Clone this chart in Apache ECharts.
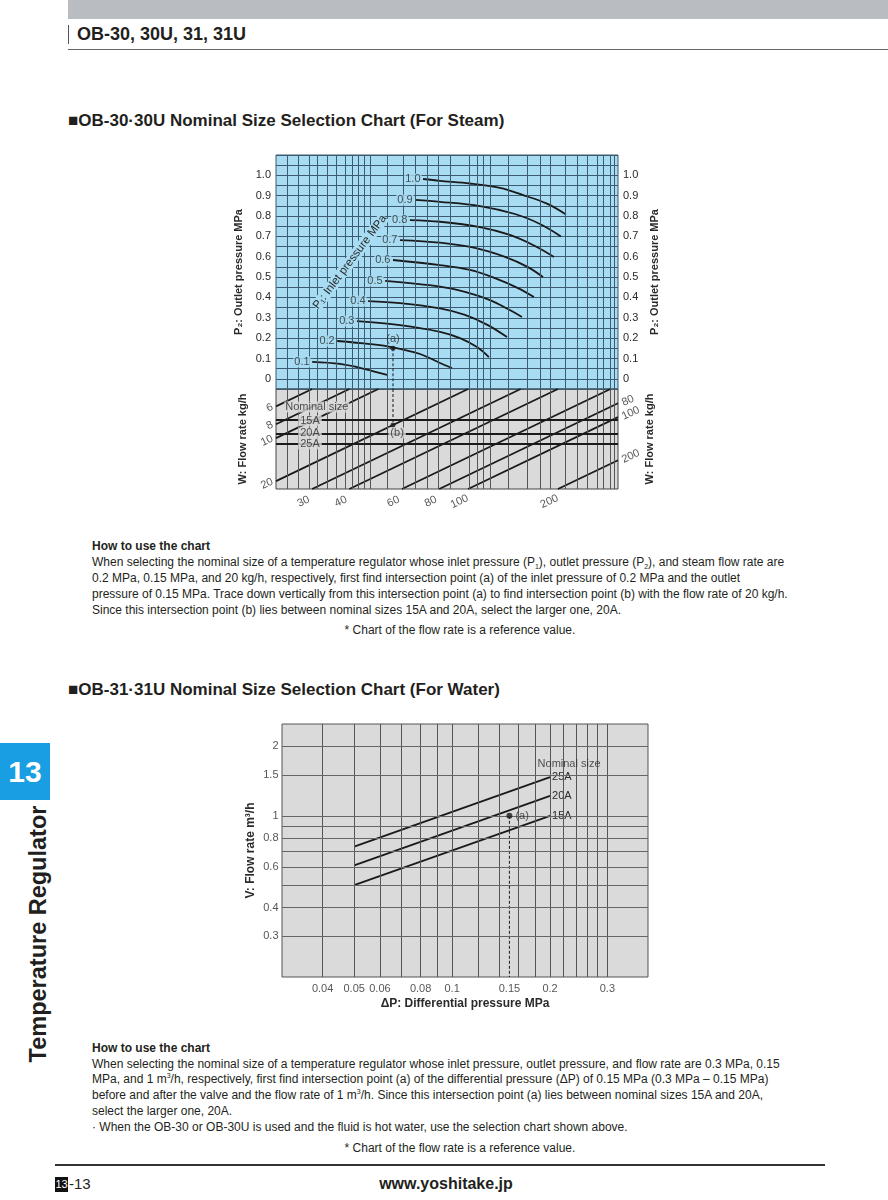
<!DOCTYPE html>
<html><head><meta charset="utf-8">
<script src="https://cdn.jsdelivr.net/npm/echarts@6/dist/echarts.min.js"></script>
<style>
html,body{margin:0;padding:0;}
body{width:888px;height:1200px;position:relative;background:#fff;font-family:"Liberation Sans",Arial,sans-serif;color:#231f20;overflow:hidden;}
.a{position:absolute;white-space:nowrap;}
.sec{font-weight:bold;font-size:17px;line-height:20px;}
.p{font-size:12px;line-height:16px;}
.p sub,.p sup{font-size:7px;line-height:0;}
</style></head><body>
<div class="a" style="left:68px;top:0;width:820px;height:19px;background:#b9bcc0"></div>
<div class="a" style="left:68px;top:25px;width:1px;height:19px;background:#555"></div>
<div class="a" style="left:77px;top:24px;font-weight:bold;font-size:18px;line-height:20px">OB-30, 30U, 31, 31U</div>
<div class="a" style="left:68px;top:49px;width:820px;height:1px;background:#666"></div>

<div class="a sec" style="left:68px;top:111px">■OB-30·30U Nominal Size Selection Chart (For Steam)</div>
<div id="steam" class="a" style="left:200px;top:140px;width:500px;height:380px"></div>

<div class="a p" style="left:92px;top:538px">
<b>How to use the chart</b><br>
When selecting the nominal size of a temperature regulator whose inlet pressure (P<sub>1</sub>), outlet pressure (P<sub>2</sub>), and steam flow rate are<br>
0.2 MPa, 0.15 MPa, and 20 kg/h, respectively, first find intersection point (a) of the inlet pressure of 0.2 MPa and the outlet<br>
pressure of 0.15 MPa. Trace down vertically from this intersection point (a) to find intersection point (b) with the flow rate of 20 kg/h.<br>
Since this intersection point (b) lies between nominal sizes 15A and 20A, select the larger one, 20A.
</div>
<div class="a p" style="left:0;width:920px;text-align:center;top:622px">* Chart of the flow rate is a reference value.</div>

<div class="a sec" style="left:68px;top:680px">■OB-31·31U Nominal Size Selection Chart (For Water)</div>
<div id="water" class="a" style="left:230px;top:715px;width:440px;height:300px"></div>

<div class="a p" style="left:92px;top:1041px;line-height:15.7px">
<b>How to use the chart</b><br>
When selecting the nominal size of a temperature regulator whose inlet pressure, outlet pressure, and flow rate are 0.3 MPa, 0.15<br>
MPa, and 1 m<sup>3</sup>/h, respectively, first find intersection point (a) of the differential pressure (ΔP) of 0.15 MPa (0.3 MPa – 0.15 MPa)<br>
before and after the valve and the flow rate of 1 m<sup>3</sup>/h. Since this intersection point (a) lies between nominal sizes 15A and 20A,<br>
select the larger one, 20A.<br>
· When the OB-30 or OB-30U is used and the fluid is hot water, use the selection chart shown above.
</div>
<div class="a p" style="left:0;width:920px;text-align:center;top:1140px">* Chart of the flow rate is a reference value.</div>

<div class="a" style="left:0;top:743px;width:50px;height:57px;background:#1a9ee3;color:#fff;font-weight:bold;font-size:30px;line-height:57px;text-align:center">13</div>
<div class="a" style="left:38px;top:934px;font-weight:bold;font-size:23.5px;line-height:26px;transform:translate(-50%,-50%) rotate(-90deg)">Temperature Regulator</div>

<div class="a" style="left:55px;top:1164px;width:770px;height:2px;background:#333"></div>
<div class="a" style="left:55px;top:1177px;width:13px;height:15px;background:#111;color:#fff;font-size:11px;line-height:15px;text-align:center">13</div>
<div class="a" style="left:69px;top:1175px;font-size:15px;line-height:18px">-13</div>
<div class="a" style="left:446px;top:1175px;transform:translateX(-50%);font-weight:bold;font-size:16px;line-height:18px">www.yoshitake.jp</div>

<script>
// ================= STEAM CHART DATA =================
// horizontal (capacity) axis is logarithmic; P2 axis linear; flow axis logarithmic
const inletPressures = [0.1, 0.2, 0.3, 0.4, 0.5, 0.6, 0.7, 0.8, 0.9, 1.0];
const curveP1_01 = [[30.0,0.083],[37.2,0.073],[45.1,0.048],[53.5,0.019]];
const curveP1_02 = [[36.4,0.186],[46.9,0.171],[56.0,0.155],[69.0,0.122],[80.5,0.078],[88.3,0.053]];
const curveP1_03 = [[42.4,0.284],[59.1,0.264],[80.5,0.231],[93.9,0.200],[107.1,0.156],[117.4,0.107]];
const curveP1_04 = [[46.2,0.382],[59.1,0.372],[80.5,0.346],[97.6,0.314],[116.5,0.264],[135.0,0.205]];
const curveP1_05 = [[52.7,0.481],[80.5,0.453],[97.6,0.427],[118.4,0.387],[136.0,0.343],[151.5,0.304]];
const curveP1_06 = [[56.0,0.584],[80.5,0.559],[101.4,0.535],[123.0,0.495],[146.9,0.446],[166.2,0.402]];
const curveP1_07 = [[59.1,0.682],[80.5,0.669],[105.4,0.643],[132.9,0.599],[158.7,0.549],[178.2,0.500]];
const curveP1_08 = [[63.8,0.780],[80.5,0.772],[109.6,0.746],[138.1,0.707],[167.5,0.653],[194.0,0.599]];
const curveP1_09 = [[66.4,0.879],[80.5,0.870],[109.6,0.849],[143.6,0.810],[174.1,0.761],[204.7,0.700]];
const curveP1_10 = [[70.6,0.982],[80.5,0.973],[101.4,0.960],[127.9,0.938],[152.7,0.903],[183.8,0.861],[212.8,0.808]];
const steamCurves = [curveP1_01,curveP1_02,curveP1_03,curveP1_04,curveP1_05,curveP1_06,curveP1_07,curveP1_08,curveP1_09,curveP1_10];

const flowRates = [6, 8, 10, 20, 30, 40, 60, 80, 100, 200];       // kg/h diagonal lines
const leftFlowLabels = [6, 8, 10, 20];
const bottomFlowLabels = [30, 40, 60, 80, 100, 200];
const rightFlowLabels = [80, 100, 200];
const nominalSizes = ['15A', '20A', '25A'];
const nominalLevels = [0.334, 0.406, 0.484];
const steamGridX = [24.7,26.9,29.3,31.1,33.6,36.1,38.7,40.8,42.7,44.8,46.9,53.5,60.5,66.4,72.8,79.3,86.9,101,107,112,119,136,157.6,174,188,211,233,250,270,283,299,310];
const pointA = [56.0, 0.15];
const pointBFlow = 20;

// ================= WATER CHART DATA =================
const dpTickLabels = [0.04, 0.05, 0.06, 0.08, 0.1, 0.15, 0.2, 0.3];
const vTickLabels = [0.3, 0.4, 0.6, 0.8, 1, 1.5, 2];
const dpGrid = [0.035,0.04,0.045,0.05,0.06,0.07,0.08,0.09,0.1,0.12,0.14,0.16,0.18,0.2,0.22,0.24,0.26,0.28,0.3];
const vGrid = [0.3,0.4,0.5,0.6,0.7,0.8,0.9,1,1.5,2];
const waterDP = [0.05, 0.2];
const water15A = [0.5, 1.0];
const water20A = [0.61, 1.22];
const water25A = [0.735, 1.47];
const waterPointA = [0.15, 1.0];

// ================= RENDER =================
const FONT = '"Liberation Sans", Arial, sans-serif';
const BLUE = '#a7dcf3', GRAY = '#dadada', INK = '#1a1a1a', TXT = '#2a2a2a';
const KMIN = 22.7, KMAX = 318, MMIN = 0.2, MMAX = 1;
const hid = {show:false};
const clear = {color:'rgba(0,0,0,0)'};

function vlines(xi, yi, vals, color){
  return {type:'line', xAxisIndex:xi, yAxisIndex:yi, data:[], silent:true, z:1,
    markLine:{silent:true, animation:false, symbol:['none','none'], label:{show:false},
      lineStyle:{color:color, width:1, type:'solid'}, data: vals.map(v=>({xAxis:v}))}};
}
function hlines(xi, yi, vals, color, w){
  return {type:'line', xAxisIndex:xi, yAxisIndex:yi, data:[], silent:true, z:1,
    markLine:{silent:true, animation:false, symbol:['none','none'], label:{show:false},
      lineStyle:{color:color, width:w||1, type:'solid'}, data: vals.map(v=>({yAxis:v}))}};
}
function labels(xi, yi, items, z){
  return {type:'scatter', xAxisIndex:xi, yAxisIndex:yi, symbolSize:1, itemStyle:clear, clip:false, silent:true, z:z||5,
    data: items};
}
const lbl = (extra)=>Object.assign({show:true, fontFamily:FONT, fontSize:11, color:TXT}, extra);

const steamSeries = [];
steamSeries.push(vlines(0,0,steamGridX,'#3c5b70'));
steamSeries.push(vlines(1,2,steamGridX,'#555'));
steamSeries.push(hlines(1,2,nominalLevels,INK,1.8));
flowRates.forEach(w=>{
  const x1 = Math.max(KMIN, w/MMAX), x2 = Math.min(KMAX, w/MMIN);
  steamSeries.push({type:'line', xAxisIndex:1, yAxisIndex:2, symbol:'none', silent:true, z:3,
    lineStyle:{color:INK, width:1.8}, data:[[x1,w/x1],[x2,w/x2]]});
});
steamCurves.forEach(c=>{
  steamSeries.push({type:'line', xAxisIndex:0, yAxisIndex:0, symbol:'none', smooth:0.35, silent:true, z:3,
    lineStyle:{color:INK, width:1.8}, data:c});
});
// curve labels
steamSeries.push(labels(0,0, steamCurves.map((c,i)=>({value:c[0],
  label:lbl({position:'left', distance:1, formatter:inletPressures[i].toFixed(1), backgroundColor:BLUE, padding:[0,1]})}))));
// dashed trace (a) -> (b)
steamSeries.push({type:'line', xAxisIndex:0, yAxisIndex:0, symbol:'none', silent:true, z:2,
  lineStyle:{color:INK, width:1, type:[3,2]}, data:[pointA,[pointA[0],-0.05]]});
steamSeries.push({type:'line', xAxisIndex:1, yAxisIndex:2, symbol:'none', silent:true, z:2,
  lineStyle:{color:INK, width:1, type:[3,2]}, data:[[pointA[0],MMIN],[pointA[0],pointBFlow/pointA[0]]]});
steamSeries.push({type:'scatter', xAxisIndex:0, yAxisIndex:0, symbolSize:5, itemStyle:{color:INK}, silent:true, z:6,
  data:[{value:pointA, label:lbl({position:'top', distance:1, formatter:'(a)'})}]});
steamSeries.push({type:'scatter', xAxisIndex:1, yAxisIndex:2, symbolSize:5, itemStyle:{color:INK}, silent:true, z:6,
  data:[[pointA[0], pointBFlow/pointA[0]]]});
// flow labels
steamSeries.push(labels(1,2,[].concat(
  leftFlowLabels.map(w=>({value:[KMIN,w/KMIN], label:lbl({position:'left', distance:3, rotate:25, formatter:String(w)})})),
  bottomFlowLabels.map(w=>({value:[w,MMAX], label:lbl({position:'bottom', distance:2, offset:[-12,0], rotate:25, formatter:String(w)})})),
  rightFlowLabels.map(w=>({value:[KMAX,w/KMAX], label:lbl({position:'right', distance:4, rotate:25, formatter:String(w)})}))
)));
// nominal size labels
steamSeries.push(labels(1,2,[].concat(
  nominalSizes.map((s,i)=>({value:[29.5,nominalLevels[i]], label:lbl({position:'inside', formatter:s, backgroundColor:GRAY, padding:[0,2]})})),
  [{value:[31.1,0.267], label:lbl({position:'inside', formatter:'Nominal size', backgroundColor:GRAY, padding:[0,1]})},
   {value:[57.8,nominalLevels[1]], label:lbl({position:'inside', formatter:'(b)', backgroundColor:GRAY, padding:[0,2]})}]
), 7));

const p2fmt = v=>{const n=Math.round(v*100); if(n<0||n>100||n%10) return ''; return n===0?'0':(n/100).toFixed(1);};
const nameStyle = {fontFamily:FONT, fontSize:11, fontWeight:'bold', color:TXT};
const steamOpt = {
  animation:false,
  textStyle:{fontFamily:FONT},
  grid:[
    {left:76, top:15, width:342, height:234, show:true, backgroundColor:BLUE, borderColor:'#3c5b70', borderWidth:1},
    {left:76, top:249, width:342, height:100, show:true, backgroundColor:GRAY, borderColor:'#444', borderWidth:1}
  ],
  xAxis:[
    {type:'log', gridIndex:0, min:KMIN, max:KMAX, axisLine:hid, axisTick:hid, axisLabel:hid, splitLine:hid},
    {type:'log', gridIndex:1, min:KMIN, max:KMAX, axisLine:hid, axisTick:hid, axisLabel:hid, splitLine:hid}
  ],
  yAxis:[
    {type:'value', gridIndex:0, min:-0.05, max:1.1, interval:0.05, position:'left',
     axisLine:hid, axisTick:hid, axisLabel:{formatter:p2fmt, fontFamily:FONT, fontSize:11, color:TXT, margin:5},
     splitLine:{show:true, lineStyle:{color:'#3c5b70', width:1}},
     name:'P₂: Outlet pressure MPa', nameLocation:'middle', nameGap:26, nameRotate:90, nameTextStyle:nameStyle},
    {type:'value', gridIndex:0, min:-0.05, max:1.1, interval:0.05, position:'right',
     axisLine:hid, axisTick:hid, axisLabel:{formatter:p2fmt, fontFamily:FONT, fontSize:11, color:TXT, margin:5},
     splitLine:hid,
     name:'P₂: Outlet pressure MPa', nameLocation:'middle', nameGap:26, nameRotate:90, nameTextStyle:nameStyle},
    {type:'log', gridIndex:1, min:MMIN, max:MMAX, inverse:true, position:'left',
     axisLine:hid, axisTick:hid, axisLabel:hid, splitLine:hid,
     name:'W: Flow rate kg/h', nameLocation:'middle', nameGap:28, nameRotate:90, nameTextStyle:nameStyle},
    {type:'log', gridIndex:1, min:MMIN, max:MMAX, inverse:true, position:'right',
     axisLine:hid, axisTick:hid, axisLabel:hid, splitLine:hid,
     name:'W: Flow rate kg/h', nameLocation:'middle', nameGap:26, nameRotate:90, nameTextStyle:nameStyle}
  ],
  graphic:[{type:'text', x:150, y:122, rotation:53*Math.PI/180, z:10,
    style:{text:'P₁: Inlet pressure MPa', fontFamily:FONT, fontSize:11.5, fill:TXT, align:'center', verticalAlign:'middle',
      backgroundColor:BLUE}}],
  series: steamSeries
};
echarts.init(document.getElementById('steam')).setOption(steamOpt);

// ---------------- water ----------------
const WX0=0.03, WX1=0.4, WY0=0.2, WY1=2.5;
const waterSeries = [];
waterSeries.push(vlines(0,0,dpGrid,'#555'));
waterSeries.push(hlines(0,0,vGrid,'#666',1));
[[water15A,'15A'],[water20A,'20A'],[water25A,'25A']].forEach(([v,name])=>{
  waterSeries.push({type:'line', symbol:'none', silent:true, z:3, lineStyle:{color:INK, width:1.8},
    data: waterDP.map((x,i)=>[x,v[i]]),
    endLabel:{show:true, formatter:name, fontFamily:FONT, fontSize:11, color:TXT, distance:2}});
});
waterSeries.push(labels(0,0,[{value:[waterDP[1],water25A[1]], label:lbl({position:'top', distance:7, offset:[19,0], formatter:'Nominal size'})}]));
waterSeries.push({type:'line', symbol:'none', silent:true, z:2, lineStyle:{color:INK, width:1, type:[3,2]},
  data:[waterPointA,[waterPointA[0],WY0]]});
waterSeries.push({type:'scatter', symbolSize:6, itemStyle:{color:INK}, silent:true, z:6,
  data:[{value:waterPointA, label:lbl({position:'right', distance:3, formatter:'(a)'})}]});
waterSeries.push(labels(0,0,[].concat(
  dpTickLabels.map(v=>({value:[v,WY0], label:lbl({position:'bottom', distance:6, formatter:String(v)})})),
  vTickLabels.map(v=>({value:[WX0,v], label:lbl({position:'left', distance:3, formatter:String(v)})}))
)));
const waterOpt = {
  animation:false,
  textStyle:{fontFamily:FONT},
  grid:{left:52, top:9, width:366, height:253, show:true, backgroundColor:GRAY, borderColor:'#555', borderWidth:1},
  xAxis:{type:'log', min:WX0, max:WX1, axisLine:hid, axisTick:hid, axisLabel:hid, splitLine:hid,
    name:'ΔP: Differential pressure MPa', nameLocation:'middle', nameGap:21, nameTextStyle:Object.assign({},nameStyle,{fontSize:12})},
  yAxis:{type:'log', min:WY0, max:WY1, axisLine:hid, axisTick:hid, axisLabel:hid, splitLine:hid,
    name:'V: Flow rate m³/h', nameLocation:'middle', nameGap:25, nameRotate:90, nameTextStyle:Object.assign({},nameStyle,{fontSize:12})},
  series: waterSeries
};
echarts.init(document.getElementById('water')).setOption(waterOpt);
</script>
</body></html>
